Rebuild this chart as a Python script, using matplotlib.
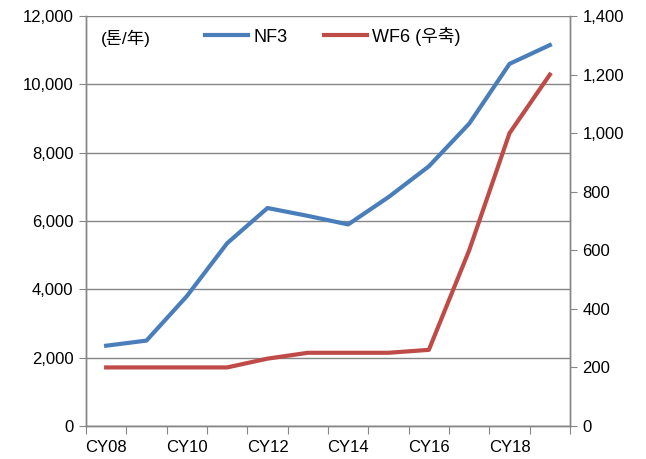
import matplotlib
matplotlib.use("Agg")
import matplotlib.pyplot as plt
from matplotlib.ticker import FuncFormatter, FixedLocator

# data
years = ["CY08", "CY09", "CY10", "CY11", "CY12", "CY13", "CY14",
         "CY15", "CY16", "CY17", "CY18", "CY19"]
nf3 = [2350, 2500, 3800, 5350, 6380, 6150, 5900, 6700, 7600, 8850, 10600, 11150]
wf6 = [200, 200, 200, 200, 230, 250, 250, 250, 260, 600, 1000, 1200]

BLUE = "#4A7EBB"
RED = "#BE4B48"
GRAY = "#868686"

plt.rcParams["font.family"] = ["Liberation Sans", "Noto Sans CJK KR", "DejaVu Sans"]
plt.rcParams["font.size"] = 12

fig = plt.figure(figsize=(6.46, 4.59), dpi=100)
ax = fig.add_axes([0.1331, 0.0719, 0.7493, 0.8932])
ax2 = ax.twinx()

x = list(range(len(years)))
l1, = ax.plot(x, nf3, color=BLUE, lw=3, solid_joinstyle="round", label="NF3", zorder=3)
l2, = ax2.plot(x, wf6, color=RED, lw=3, solid_joinstyle="round", label="WF6 (우축)", zorder=3)

ax.set_xlim(-0.5, len(years) - 0.5)
ax.set_ylim(0, 12000)
ax2.set_ylim(0, 1400)
ax.set_yticks(range(0, 12001, 2000))
ax2.set_yticks(range(0, 1401, 200))
fmt = FuncFormatter(lambda v, p: f"{int(v):,}")
ax.yaxis.set_major_formatter(fmt)
ax2.yaxis.set_major_formatter(fmt)

# category boundaries as tick marks, labels every other year
ax.xaxis.set_major_locator(FixedLocator([i - 0.5 for i in range(len(years) + 1)]))
ax.xaxis.set_major_formatter(FuncFormatter(lambda v, p: ""))
ax.xaxis.set_minor_locator(FixedLocator(x[::2]))
ax.set_xticklabels([y for y in years[::2]], minor=True)
ax.tick_params(axis="x", which="major", length=6, color=GRAY, direction="out")
ax.tick_params(axis="x", which="minor", length=0, pad=10)

ax.tick_params(axis="y", length=5, color=GRAY, direction="out", pad=4)
ax2.tick_params(axis="y", length=5, color=GRAY, direction="out", pad=4)

ax.grid(axis="y", color=GRAY, lw=1)
ax.set_axisbelow(True)
for a in (ax, ax2):
    a.spines["top"].set_visible(False)
    for s in ("left", "right", "bottom"):
        a.spines[s].set_color(GRAY)
        a.spines[s].set_linewidth(1)

ax.text(0.03, 0.945, "(톤/年)", transform=ax.transAxes, fontsize=12.5,
        va="center", ha="left")

ax2.legend([l1, l2], ["NF3", "WF6 (우축)"], loc="center",
           bbox_to_anchor=(0.51, 0.951), ncol=2, frameon=False,
           handlelength=2.4, columnspacing=2.0, handletextpad=0.3,
           fontsize=13)

fig.savefig("out.png", dpi=100)
